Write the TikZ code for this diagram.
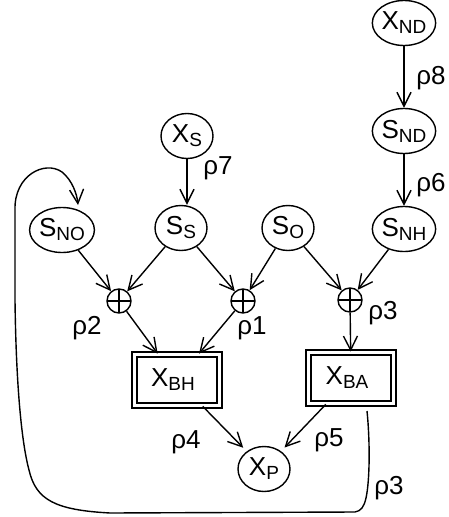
\documentclass[tikz,border=0pt]{standalone}
\usepackage{fontspec}
\setmainfont{Liberation Sans}
\usetikzlibrary{shapes.geometric,arrows.meta}
\newcommand\sbs[1]{\raisebox{-4pt}{\fontsize{19}{19}\selectfont #1}}
\begin{document}
\begin{tikzpicture}[x=1pt,y=-1pt,
  every node/.style={font=\fontsize{26}{26}\selectfont},
  var/.style={ellipse,draw,line width=1.4pt,minimum width=52pt,minimum height=45pt,inner sep=0pt},
  boxnode/.style={rectangle,draw,double,line width=1.8pt,double distance=2.5pt,minimum width=85pt,minimum height=51pt,inner sep=0pt},
  oplusnode/.style={circle,draw,line width=1.4pt,minimum size=24pt,inner sep=0pt,
    path picture={\draw[line width=1.4pt] (path picture bounding box.north) -- (path picture bounding box.south)
      (path picture bounding box.west) -- (path picture bounding box.east);}},
  arr/.style={line width=1.4pt,-{Straight Barb[length=14pt,width=14pt,line width=1.4pt]}},
  lbl/.style={inner sep=0pt}]
\useasboundingbox (0,0) rectangle (448,517);
\node[var] (XND) at (404,23) {X\sbs{ND}};
\node[var] (SND) at (404,131) {S\sbs{ND}};
\node[var] (SNH) at (404,229) {S\sbs{NH}};
\node[var] (XS) at (187,136) {X\sbs{S}};
\node[var] (SS) at (181,228) {S\sbs{S}};
\node[var] (SO) at (288,228) {S\sbs{O}};
\node[var] (SNO) at (62,230) {S\sbs{NO}};
\node[oplusnode] (op1) at (119,301) {};
\node[oplusnode] (op2) at (243,301) {};
\node[oplusnode] (op3) at (350,300) {};
\node[boxnode] (XBH) at (177,380) {\hspace*{-8pt}X\sbs{BH}};
\node[boxnode] (XBA) at (351,378) {\hspace*{-8pt}X\sbs{BA}};
\node[var] (XP) at (264,469) {X\sbs{P}};
\node[lbl] (r7) at (218,168) {ρ7};
\node[lbl] (r8) at (431,78) {ρ8};
\node[lbl] (r6) at (431,185) {ρ6};
\node[lbl] (r2) at (87,328) {ρ2};
\node[lbl] (r1) at (252,328) {ρ1};
\node[lbl] (r3a) at (383,313) {ρ3};
\node[lbl] (r4) at (186,442) {ρ4};
\node[lbl] (r5) at (329,440) {ρ5};
\node[lbl] (r3b) at (389,488) {ρ3};
\draw[arr] (XND) -- (SND);
\draw[arr] (SND) -- (SNH);
\draw[arr] (XS.south) -- (XS.south |- SS.north);
\draw[arr] (SNO) -- (op1);
\draw[arr] (SS) -- (op1);
\draw[arr] (SS) -- (op2);
\draw[arr] (SO) -- (op2);
\draw[arr] (SO) -- (op3);
\draw[arr] (SNH) -- (op3);
\draw[arr] (op1) -- (XBH);
\draw[arr] (op2) -- (XBH);
\draw[arr] (op3) -- (XBA);
\draw[arr,shorten >=5pt] (XBH) -- (XP);
\draw[arr,shorten >=5pt] (XBA) -- (XP);
\coordinate (lstart) at (367,411);
\coordinate (lend) at (78,205);
\draw[arr] (lstart) .. controls (370,440) and (370,480) .. (366,498)
  .. controls (364,507) and (361,511) .. (355,512) -- (110,513)
  .. controls (55,510) and (36,500) .. (29,470)
  .. controls (21,440) and (16,380) .. (15,300) -- (15,210)
  .. controls (14,175) and (45,160) .. (62,172)
  .. controls (72,180) and (77,194) .. (lend);
\end{tikzpicture}
\end{document}
